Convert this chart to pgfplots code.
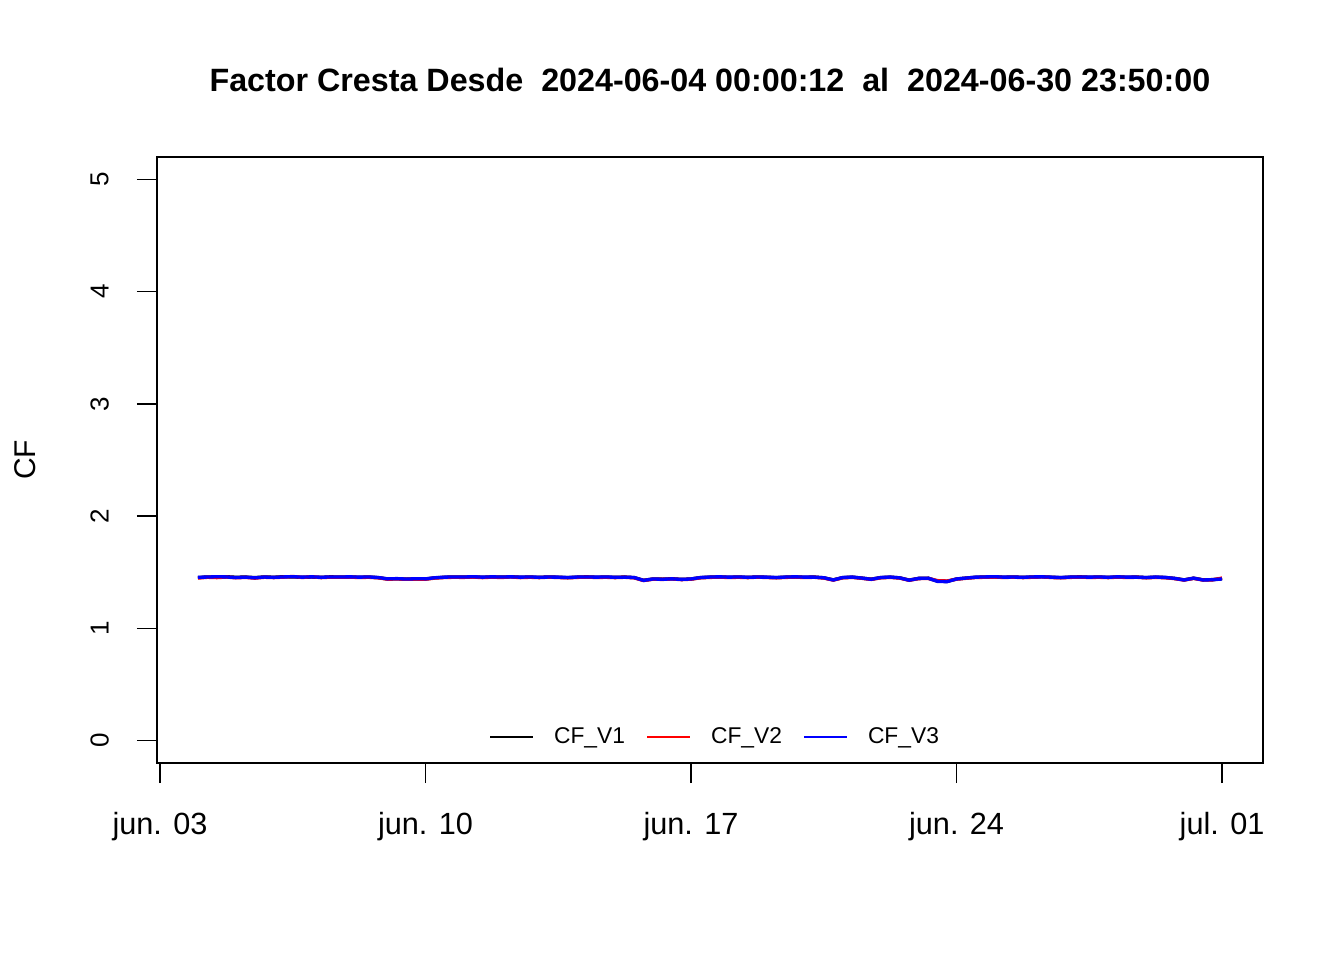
\documentclass[border=0pt]{standalone}
\usepackage{pgfplots}
\pgfplotsset{compat=1.18}
\usepackage{pgfplotstable}
\usepackage{fontspec}
\setmainfont{Liberation Sans}
\pgfplotstableread{
t v1 v2 v3
1.00 1.452 1.448 1.455
1.25 1.458 1.455 1.457
1.50 1.456 1.452 1.460
1.75 1.460 1.457 1.458
2.00 1.455 1.450 1.452
2.25 1.457 1.454 1.456
2.50 1.452 1.447 1.450
2.75 1.458 1.455 1.457
3.00 1.455 1.452 1.454
3.25 1.460 1.456 1.458
3.50 1.458 1.462 1.460
3.75 1.455 1.453 1.456
4.00 1.457 1.460 1.459
4.25 1.454 1.452 1.455
4.50 1.459 1.456 1.458
4.75 1.456 1.455 1.457
5.00 1.458 1.456 1.459
5.25 1.455 1.453 1.456
5.50 1.457 1.455 1.458
5.75 1.452 1.450 1.453
6.00 1.440 1.438 1.441
6.25 1.442 1.440 1.443
6.50 1.438 1.437 1.439
6.75 1.441 1.439 1.442
7.00 1.440 1.438 1.441
7.25 1.450 1.448 1.451
7.50 1.455 1.453 1.456
7.75 1.458 1.455 1.458
8.00 1.456 1.454 1.457
8.25 1.459 1.457 1.460
8.50 1.455 1.452 1.456
8.75 1.458 1.456 1.459
9.00 1.456 1.453 1.457
9.25 1.460 1.458 1.459
9.50 1.455 1.452 1.456
9.75 1.457 1.455 1.458
10.00 1.454 1.452 1.455
10.25 1.458 1.456 1.457
10.50 1.455 1.453 1.456
10.75 1.452 1.450 1.453
11.00 1.456 1.454 1.457
11.25 1.459 1.457 1.458
11.50 1.455 1.453 1.456
11.75 1.457 1.455 1.458
12.00 1.454 1.452 1.455
12.25 1.457 1.455 1.456
12.50 1.452 1.450 1.453
12.75 1.428 1.426 1.427
13.00 1.440 1.438 1.440
13.25 1.438 1.436 1.437
13.50 1.442 1.440 1.441
13.75 1.436 1.434 1.436
14.00 1.440 1.438 1.440
14.25 1.452 1.450 1.453
14.50 1.456 1.454 1.457
14.75 1.458 1.456 1.459
15.00 1.455 1.453 1.456
15.25 1.457 1.455 1.458
15.50 1.454 1.452 1.455
15.75 1.458 1.456 1.457
16.00 1.455 1.453 1.456
16.25 1.452 1.450 1.453
16.50 1.456 1.454 1.457
16.75 1.458 1.456 1.459
17.00 1.455 1.453 1.456
17.25 1.457 1.455 1.456
17.50 1.450 1.448 1.451
17.75 1.432 1.430 1.431
18.00 1.452 1.450 1.453
18.25 1.456 1.454 1.457
18.50 1.448 1.446 1.448
18.75 1.438 1.436 1.437
19.00 1.452 1.450 1.453
19.25 1.456 1.454 1.457
19.50 1.450 1.448 1.450
19.75 1.430 1.428 1.429
20.00 1.445 1.443 1.445
20.25 1.447 1.445 1.447
20.50 1.420 1.425 1.418
20.75 1.418 1.422 1.416
21.00 1.440 1.438 1.440
21.25 1.448 1.446 1.448
21.50 1.455 1.453 1.456
21.75 1.457 1.455 1.458
22.00 1.459 1.457 1.460
22.25 1.455 1.453 1.456
22.50 1.458 1.456 1.457
22.75 1.454 1.452 1.455
23.00 1.457 1.455 1.458
23.25 1.460 1.458 1.459
23.50 1.455 1.453 1.456
23.75 1.452 1.450 1.453
24.00 1.456 1.454 1.457
24.25 1.459 1.457 1.458
24.50 1.455 1.453 1.456
24.75 1.457 1.455 1.458
25.00 1.454 1.452 1.455
25.25 1.458 1.456 1.459
25.50 1.455 1.453 1.456
25.75 1.457 1.455 1.456
26.00 1.452 1.450 1.453
26.25 1.456 1.454 1.457
26.50 1.453 1.451 1.454
26.75 1.445 1.443 1.445
27.00 1.432 1.430 1.431
27.25 1.447 1.445 1.447
27.50 1.432 1.430 1.431
27.75 1.434 1.432 1.433
28.00 1.442 1.448 1.440
}\cfdata
\begin{document}
\begin{tikzpicture}
\path[use as bounding box] (0pt,0pt) rectangle (1008pt,720pt);
\begin{axis}[
  at={(117.75pt,147.75pt)}, anchor=south west,
  scale only axis, width=829.5pt, height=454.5pt,
  xmin=-0.08, xmax=29.08, ymin=-0.2, ymax=5.2,
  axis line style={line width=1.2pt},
  tick pos=left, tick align=outside,
  major tick length=15pt,
  major tick style={line width=1.2pt, black},
  xtick={0,7,14,21,28},
  xticklabels={jun. 03,jun. 10,jun. 17,jun. 24,jul. 01},
  ytick={0,1,2,3,4,5},
  yticklabels={0,1,2,3,4,5},
  /pgf/number format/assume math mode=true,
  xticklabel style={font=\fontsize{23}{27}\selectfont, anchor=center, yshift=-33pt},
  yticklabel style={font=\fontsize{19.5}{23}\selectfont, rotate=90, anchor=center, yshift=28pt},
  ylabel={CF},
  ylabel style={font=\fontsize{22.5}{26}\selectfont, at={(axis description cs:-0.1193,0.5)}, anchor=center, rotate=0},
  title={\bfseries Factor Cresta Desde\ \ 2024-06-04 00:00:12\ \ al\ \ 2024-06-30 23:50:00},
  title style={font=\fontsize{24.2}{28}\selectfont, at={(axis description cs:0.5,1.114)}, anchor=center},
  legend style={at={(axis description cs:0.505,0.043)}, anchor=center, draw=none, fill=none,
    font=\fontsize{17.1}{20}\selectfont,
    /tikz/every odd column/.append style={column sep=13.5pt},
    /tikz/every even column/.append style={column sep=14pt}},
  legend columns=3,
  legend image code/.code={\draw[#1, line width=1pt] (0pt,0pt) -- (32pt,0pt);},
]
\addplot[black, line width=2.5pt] table[x=t, y=v1] {\cfdata};
\addlegendentry{CF\_V1}
\addplot[red, line width=2.5pt] table[x=t, y=v2] {\cfdata};
\addlegendentry{CF\_V2}
\addplot[blue, line width=2.5pt] table[x=t, y=v3] {\cfdata};
\addlegendentry{CF\_V3}
\end{axis}
\end{tikzpicture}
\end{document}
